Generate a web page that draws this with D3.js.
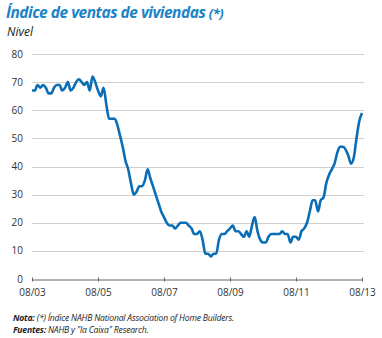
<!DOCTYPE html>
<html>
<head>
<meta charset="utf-8">
<script src="https://cdn.jsdelivr.net/npm/d3@7"></script>
<style>
  body { margin: 0; background: #fff; }
  text { font-family: "Open Sans", sans-serif; }
</style>
</head>
<body>
<div id="container"></div>
<script>
// monthly index, agosto 2003 -> agosto 2013
const startDate = new Date(2003, 7, 1);
const v2003 = [67, 67, 69, 68, 69];
const v2004 = [68, 66, 66, 68, 69, 69, 67, 68, 70, 67, 68, 70];
const v2005 = [71, 70, 69, 70, 67, 72, 70, 67, 65, 68, 62, 57];
const v2006 = [57, 57, 55, 51, 47, 42, 39, 34, 30, 31, 33, 33];
const v2007 = [35, 39, 36, 33, 30, 27, 24, 22, 20, 19, 19, 18];
const v2008 = [19, 20, 20, 20, 19, 18, 16, 16, 17, 14, 9, 9];
const v2009 = [8, 9, 9, 14, 16, 16, 17, 18, 19, 17, 17, 16];
const v2010 = [15, 17, 15, 19, 22, 17, 14, 13, 13, 15, 16, 16];
const v2011 = [16, 16, 17, 16, 16, 13, 15, 15, 14, 17, 18, 20];
const v2012 = [24, 28, 28, 24, 28, 29, 34, 37, 39, 41, 45, 47];
const v2013 = [47, 46, 44, 41, 43, 50, 56, 59];
const yTicks = [0, 10, 20, 30, 40, 50, 60, 70, 80];
const xTickLabels = ["08/03", "08/05", "08/07", "08/09", "08/11", "08/13"];

const values = [].concat(v2003, v2004, v2005, v2006, v2007, v2008, v2009, v2010, v2011, v2012, v2013)
    .map((v, i) => ({ date: d3.timeMonth.offset(startDate, i), v: v }));

const width = 382;
const height = 338;
const margin = ({ top: 54, right: 20, bottom: 59, left: 32 });

const x = d3.scaleTime()
    .domain([startDate, new Date(2013, 7, 1)])
    .range([margin.left, width - margin.right]);

const y = d3.scaleLinear()
    .domain([0, 80])
    .range([height - margin.bottom, margin.top]);

const svg = d3.select("#container").append("svg")
    .attr("width", width)
    .attr("height", height);

// titulo
const title = svg.append("text")
    .attr("x", 6)
    .attr("y", 18)
    .attr("fill", "#1b84c6")
    .attr("font-size", 15.5)
    .attr("font-weight", "bold")
    .attr("font-style", "italic")
    .attr("letter-spacing", -0.5);
title.append("tspan").text("Índice de ventas de viviendas ");
title.append("tspan").attr("font-size", 13).text("(*)");

svg.append("text")
    .attr("x", 7)
    .attr("y", 36)
    .attr("fill", "#222")
    .attr("font-size", 12)
    .attr("font-style", "italic")
    .text("Nivel");

// grid
svg.append("g")
    .attr("stroke", "#cfcfcf")
    .attr("stroke-width", 1)
    .selectAll("line")
    .data(yTicks.filter(d => d > 0))
    .join("line")
    .attr("x1", margin.left)
    .attr("x2", width - margin.right + 2)
    .attr("y1", d => Math.round(y(d)) + 0.5)
    .attr("y2", d => Math.round(y(d)) + 0.5);

// eje y labels
svg.append("g")
    .selectAll("text")
    .data(yTicks)
    .join("text")
    .attr("x", 23)
    .attr("y", d => y(d) + 3.5)
    .attr("text-anchor", "end")
    .attr("font-size", 10)
    .attr("fill", "#333")
    .text(d => d);

// eje x
const xTickDates = xTickLabels.map(s => new Date(2000 + +s.slice(3), +s.slice(0, 2) - 1, 1));
const xAxis = g => g
    .attr("transform", `translate(0,${Math.round(y(0)) + 0.5})`)
    .call(d3.axisBottom(x).tickValues(xTickDates).tickFormat(d3.timeFormat("%m/%y")).tickSize(4).tickSizeOuter(0).tickPadding(5))
    .call(g => g.select(".domain").attr("stroke", "#666"))
    .call(g => g.selectAll(".tick line").attr("stroke", "#666").attr("transform", "translate(0,-2)"))
    .call(g => g.selectAll(".tick text").attr("font-size", 10).attr("fill", "#333").attr("font-family", "Open Sans"));

svg.append("g").call(xAxis);

const line = d3.line()
    .x(d => x(d.date))
    .y(d => y(d.v))
    .curve(d3.curveMonotoneX);

svg.append("path")
    .attr("fill", "none")
    .attr("stroke", "#0b6db6")
    .attr("stroke-width", 2.6)
    .attr("stroke-linejoin", "round")
    .attr("d", line(values));

// notas
const n1 = svg.append("text")
    .attr("x", 13)
    .attr("y", 321)
    .attr("font-size", 8.6)
    .attr("font-style", "italic")
    .attr("fill", "#222")
    .attr("letter-spacing", -0.2);
n1.append("tspan").attr("font-weight", "bold").text("Nota: ");
n1.append("tspan").text("(*) Índice NAHB National Association of Home Builders.");

const n2 = svg.append("text")
    .attr("x", 13)
    .attr("y", 333)
    .attr("font-size", 8.6)
    .attr("font-style", "italic")
    .attr("fill", "#222")
    .attr("letter-spacing", -0.2);
n2.append("tspan").attr("font-weight", "bold").text("Fuentes: ");
n2.append("tspan").text("NAHB y \"la Caixa\" Research.");
</script>
</body>
</html>
